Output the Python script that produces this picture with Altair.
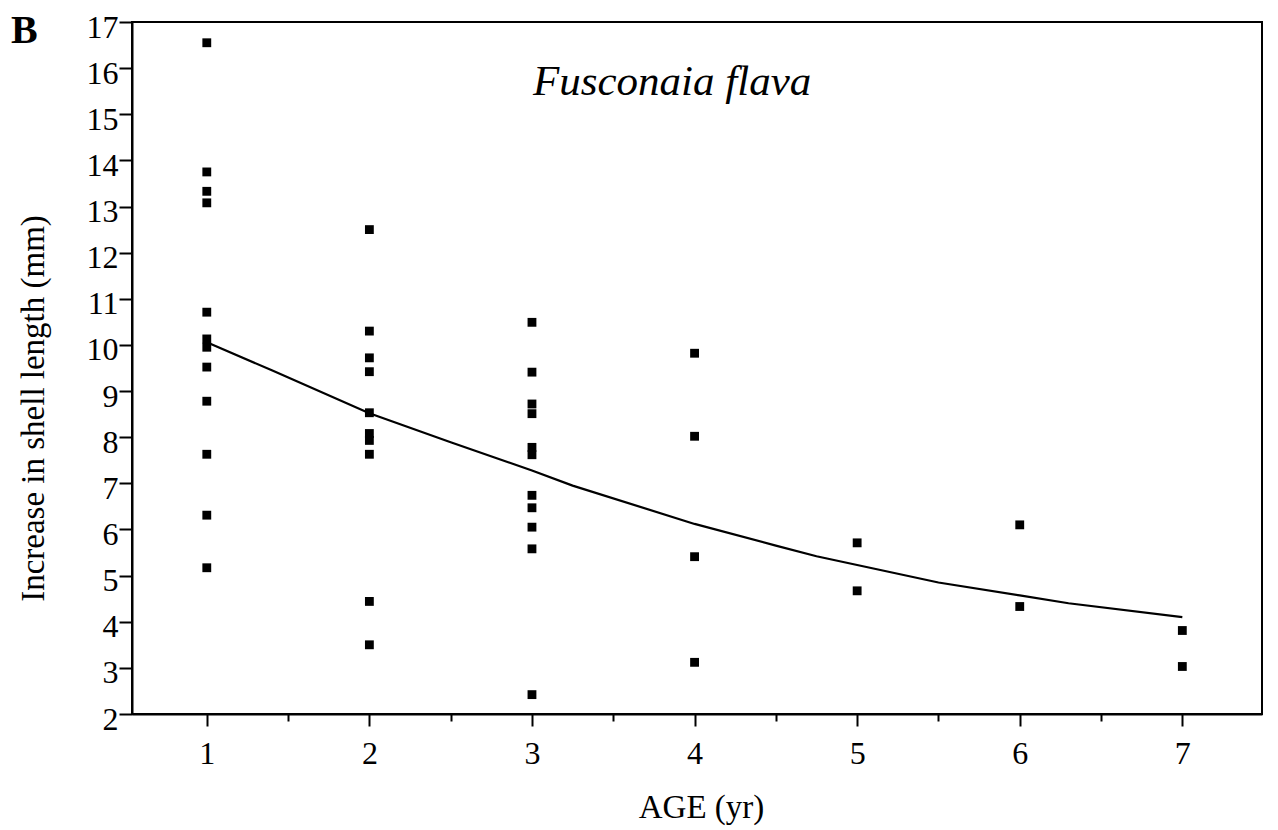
import altair as alt
import pandas as pd

# Observed increases in shell length (mm) by age (yr)
age1 = [16.55, 13.75, 13.33, 13.08, 10.71, 10.13, 9.95, 9.52, 8.78, 7.63, 6.31, 5.17]
age2 = [12.50, 10.30, 9.72, 9.42, 8.53, 8.08, 7.93, 7.63, 4.44, 3.50]
age3 = [10.49, 9.41, 8.72, 8.51, 7.78, 7.62, 6.74, 6.47, 6.05, 5.58, 2.42]
age4 = [9.82, 8.02, 5.41, 3.12]
age5 = [5.71, 4.67]
age6 = [6.10, 4.33]
age7 = [3.81, 3.03]

# Fitted growth curve
curve_age = [1, 1.4, 2, 2.5, 3, 3.25, 4, 4.5, 4.75, 5, 5.5, 6, 6.3, 7]
curve_inc = [10.06, 9.45, 8.52, 7.89, 7.28, 6.95, 6.12, 5.65, 5.42, 5.23, 4.85, 4.57, 4.40, 4.10]

x_major = [1, 2, 3, 4, 5, 6, 7]
x_minor = [1.5, 2.5, 3.5, 4.5, 5.5, 6.5]
y_ticks = list(range(2, 18))

rows = []
for a, vals in zip(range(1, 8), [age1, age2, age3, age4, age5, age6, age7]):
    for v in vals:
        rows.append({"age": a, "inc": v})
pts = pd.DataFrame(rows)
curve = pd.DataFrame({"age": curve_age, "inc": curve_inc})

FONT = "Liberation Serif"
xscale = alt.Scale(domain=[0.54, 7.49], nice=False, zero=False)
yscale = alt.Scale(domain=[2, 17], nice=False, zero=False)

x_axis = alt.Axis(values=x_major, orient="bottom", tickSize=12, tickWidth=2, tickColor="black",
                  domainColor="black", domainWidth=2, grid=False,
                  labelFontSize=32, labelFont=FONT, labelColor="black",
                  labelBaseline="alphabetic", labelPadding=37, labelAngle=0,
                  title="AGE (yr)", titleFont=FONT, titleFontSize=33,
                  titleFontWeight="normal", titleColor="black",
                  titleX=569, titleY=103, titleBaseline="alphabetic")
y_axis = alt.Axis(values=y_ticks, tickSize=13, tickWidth=2, tickColor="black",
                  domainColor="black", domainWidth=2, grid=False,
                  labelFontSize=32, labelFont=FONT, labelColor="black",
                  labelPadding=1, labelOffset=5,
                  title="Increase in shell length (mm)", titleFont=FONT,
                  titleFontSize=33, titleFontWeight="normal", titleColor="black",
                  titleX=-89, titleY=386, titleAngle=-90, titleAlign="center",
                  titleBaseline="alphabetic")

points = alt.Chart(pts).mark_square(color="black", size=78, opacity=1).encode(
    x=alt.X("age:Q", scale=xscale, axis=x_axis),
    y=alt.Y("inc:Q", scale=yscale, axis=y_axis),
)

line = alt.Chart(curve).mark_line(color="black", strokeWidth=2.2).encode(
    x=alt.X("age:Q", scale=xscale, axis=None),
    y=alt.Y("inc:Q", scale=yscale),
)

minor = alt.Chart(pd.DataFrame({"age": x_minor})).mark_point(opacity=0).encode(
    x=alt.X("age:Q", scale=xscale,
            axis=alt.Axis(values=x_minor, orient="bottom", tickSize=7, tickWidth=2,
                          tickColor="black", domain=False, labels=False, grid=False,
                          title=None)),
)

species = alt.Chart(pd.DataFrame({"t": ["Fusconaia flava"]})).mark_text(
    font=FONT, fontSize=43, fontStyle="italic", align="left",
    baseline="alphabetic", color="black"
).encode(text="t:N", x=alt.value(401), y=alt.value(73))

panel = alt.Chart(pd.DataFrame({"t": ["B"]})).mark_text(
    font=FONT, fontSize=40, fontWeight="bold", align="left",
    baseline="alphabetic", color="black"
).encode(text="t:N", x=alt.value(-121), y=alt.value(21))

chart = alt.layer(points, line, minor, species, panel).resolve_axis(
    x="independent"
).properties(
    width=1130, height=692,
    autosize=alt.AutoSizeParams(type="none"),
    padding={"left": 124, "top": 14, "right": 8, "bottom": 112},
).configure(
    background="white",
    view=alt.ViewConfig(stroke="black", strokeWidth=2),
)

chart.save("out.html", embed_options={"renderer": "svg", "actions": False})
